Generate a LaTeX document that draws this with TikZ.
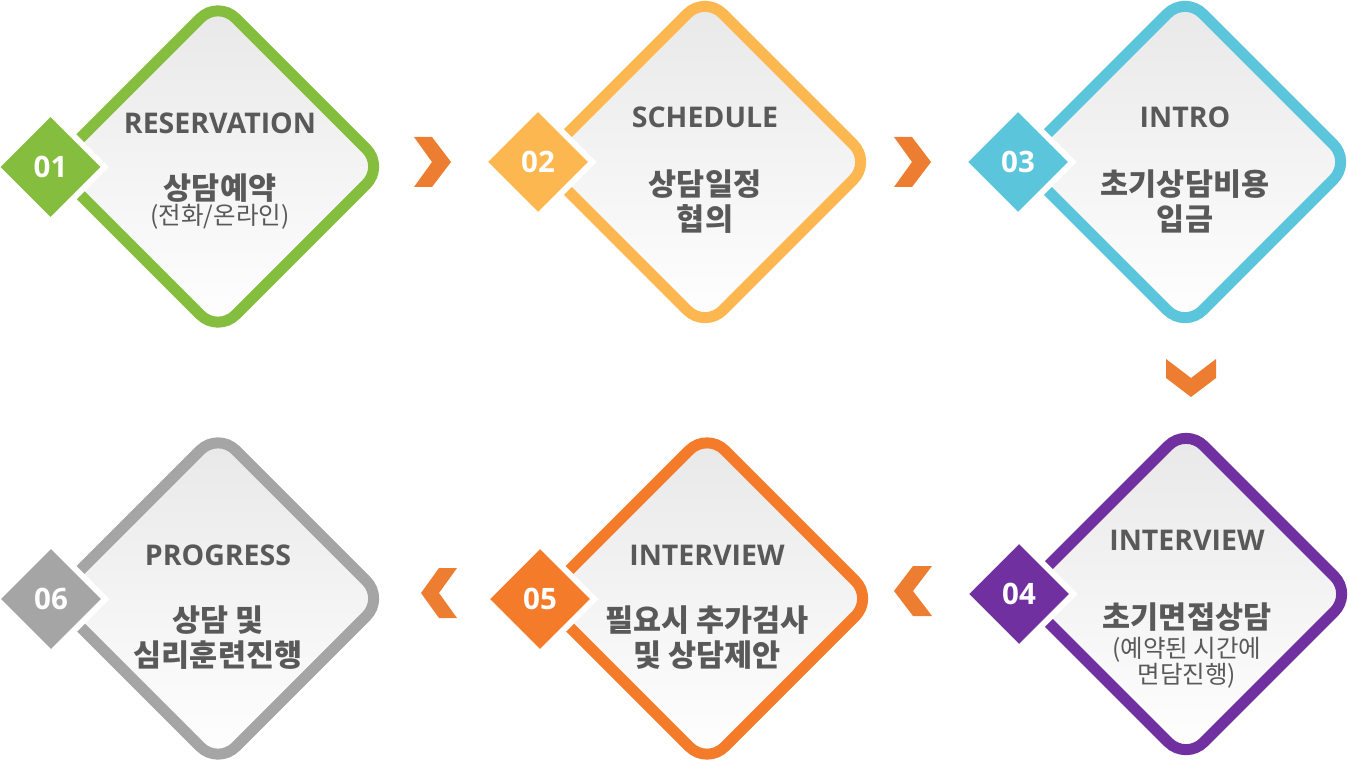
\documentclass[tikz,border=0pt]{standalone}
\usepackage{fontspec}
\setmainfont{Noto Sans CJK KR}
\newfontfamily\latinfont{Open Sans}
\usetikzlibrary{shapes.geometric}
\definecolor{cGreen}{HTML}{85BD3E}
\definecolor{cYellow}{HTML}{FDB750}
\definecolor{cCyan}{HTML}{5BC5DC}
\definecolor{cPurple}{HTML}{7030A0}
\definecolor{cOrange}{HTML}{F47B2A}
\definecolor{cGray}{HTML}{A5A5A5}
\definecolor{cChev}{HTML}{ED7D31}
\definecolor{txt}{HTML}{595959}
\definecolor{fillTop}{HTML}{E8E8E8}
\newcommand{\StepShape}[2]{%
  \draw[stepframe, draw=#2] ([shift={(-83,-83)}]#1) -- ([shift={(0,-166)}]#1)
    -- ([shift={(166,0)}]#1) -- ([shift={(0,166)}]#1) -- ([shift={(-166,0)}]#1) -- cycle;}
\begin{document}
\begin{tikzpicture}[x=1pt,y=-1pt,
  stepframe/.style={line width=11pt, rounded corners=25pt, top color=fillTop, bottom color=white},
  badge/.style={shape=diamond, aspect=1, minimum width=108.5pt, minimum height=108.5pt,
    inner sep=0pt, outer sep=0pt, draw=white, line width=6pt, text=white,
    font=\latinfont\bfseries\fontsize{29.5}{32}\selectfont},
  titletext/.style={text=txt, inner sep=0pt, font=\latinfont\bfseries\fontsize{28.5}{33}\selectfont},
  bodytext/.style={text=txt, inner sep=0pt, align=center, font=\bfseries\fontsize{30.5}{35}\selectfont},
  subtext/.style={text=txt, inner sep=0pt, align=center, font=\fontsize{24.5}{25}\selectfont},
  chev/.style={fill=cChev}]
\useasboundingbox (0,0) rectangle (1348,762);

% centres
\coordinate (c1) at (218,166.5);
\coordinate (c2) at (705,162);
\coordinate (c3) at (1185,162);
\coordinate (c4) at (1186,594);
\coordinate (c5) at (707,598.5);
\coordinate (c6) at (218,598.5);

\StepShape{c1}{cGreen}
\StepShape{c2}{cYellow}
\StepShape{c3}{cCyan}
\StepShape{c4}{cPurple}
\StepShape{c5}{cOrange}
\StepShape{c6}{cGray}

% badges
\node[badge, fill=cGreen]  (b1) at (50.5,167) {01};
\node[badge, fill=cYellow] (b2) at (538,162) {02};
\node[badge, fill=cCyan]   (b3) at (1018,162) {03};
\node[badge, fill=cPurple] (b4) at (1019,594) {04};
\node[badge, fill=cOrange] (b5) at (540,599) {05};
\node[badge, fill=cGray]   (b6) at (51,599) {06};

% texts
\node[titletext] (t1) at (220,123) {RESERVATION};
\node[bodytext]  (k1) at (220,188) {상담예약};
\node[subtext]   (s1) at (220,217) {(전화/온라인)};

\node[titletext] (t2) at (705,117) {SCHEDULE};
\node[bodytext]  (k2) at (705,201.5) {상담일정\\협의};

\node[titletext] (t3) at (1185,117) {INTRO};
\node[bodytext]  (k3) at (1185,201.5) {초기상담비용\\입금};

\node[titletext] (t4) at (1187,540) {INTERVIEW};
\node[bodytext]  (k4) at (1187,617) {초기면접상담};
\node[subtext]   (s4) at (1187,662.5) {(예약된 시간에\\면담진행)};

\node[titletext] (t5) at (707,555) {INTERVIEW};
\node[bodytext]  (k5) at (707,637.5) {필요시 추가검사\\및 상담제안};

\node[titletext] (t6) at (218,555) {PROGRESS};
\node[bodytext]  (k6) at (218,637.5) {상담 및\\심리훈련진행};

% chevrons (notch points)
\coordinate (n12) at (432,162);
\coordinate (n23) at (912,162);
\coordinate (n34) at (1191,378);
\coordinate (n45) at (913,591);
\coordinate (n56) at (439,593);

\fill[chev] (n12) -- ++(-18,-25) -- ++(18,0) -- ++(19,25) -- ++(-19,25) -- ++(-18,0) -- cycle;
\fill[chev] (n23) -- ++(-18,-25) -- ++(18,0) -- ++(19,25) -- ++(-19,25) -- ++(-18,0) -- cycle;
\fill[chev] (n34) -- ++(-25,-19) -- ++(0,19) -- ++(25,19) -- ++(25,-19) -- ++(0,-19) -- cycle;
\fill[chev] (n45) -- ++(19,-25) -- ++(-19,0) -- ++(-19,25) -- ++(19,25) -- ++(19,0) -- cycle;
\fill[chev] (n56) -- ++(18,-25) -- ++(-18,0) -- ++(-18,25) -- ++(18,25) -- ++(18,0) -- cycle;
\end{tikzpicture}
\end{document}
